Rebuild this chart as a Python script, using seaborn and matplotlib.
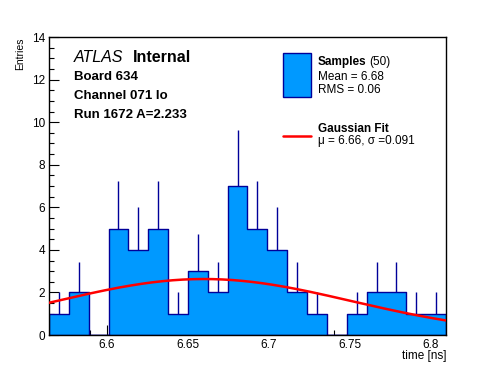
import numpy as np
import pandas as pd
import matplotlib
matplotlib.use("Agg")
import matplotlib.pyplot as plt
from matplotlib.ticker import MultipleLocator, FixedLocator
import seaborn as sns

# ---- data ----
x_min = 6.5644
x_max = 6.8094
n_bins = 20
counts = [1, 2, 0, 5, 4, 5, 1, 3, 2, 7, 5, 4, 2, 1, 0, 1, 2, 2, 1, 1]
fit_mu = 6.66
fit_sigma = 0.091
fit_amp = 2.63
x_ticks = [6.6, 6.65, 6.7, 6.75, 6.8]
x_tick_labels = ["6.6", "6.65", "6.7", "6.75", "6.8"]
y_ticks = [0, 2, 4, 6, 8, 10, 12, 14]

edges = np.linspace(x_min, x_max, n_bins + 1)
centers = 0.5 * (edges[:-1] + edges[1:])
df = pd.DataFrame({"time": centers, "n": np.array(counts, dtype=float)})

sns.set_style("white")
plt.rcParams["font.family"] = ["Liberation Sans", "DejaVu Sans"]
plt.rcParams["text.color"] = "black"
plt.rcParams["xtick.color"] = "black"
plt.rcParams["ytick.color"] = "black"
plt.rcParams["axes.labelcolor"] = "black"

fig = plt.figure(figsize=(4.96, 3.72), dpi=100)
ax = fig.add_axes([49 / 496, 1 - 335 / 372, 397 / 496, 298 / 372])

fill_col = "#0099ff"
edge_col = "#000099"

sns.histplot(data=df, x="time", weights="n", bins=n_bins, binrange=(x_min, x_max),
             element="step", fill=True, color=fill_col, alpha=1.0,
             edgecolor=edge_col, linewidth=1.0, ax=ax)

# error bars (upper half visible)
cnt = np.array(counts, dtype=float)
mask = cnt > 0
ax.vlines(centers[mask], cnt[mask], cnt[mask] + np.sqrt(cnt[mask]),
          color=edge_col, linewidth=1.0, zorder=3)

# gaussian fit
xf = np.linspace(x_min, x_max, 200)
yf = fit_amp * np.exp(-0.5 * ((xf - fit_mu) / fit_sigma) ** 2)
sns.lineplot(x=xf, y=yf, color="#ff0000", linewidth=1.8, ax=ax, zorder=4)

ax.set_xlim(x_min, x_max)
ax.set_ylim(0, 14)
ax.xaxis.set_major_locator(FixedLocator(x_ticks))
ax.set_xticklabels(x_tick_labels)
ax.xaxis.set_minor_locator(MultipleLocator(0.01))
ax.yaxis.set_major_locator(FixedLocator(y_ticks))
ax.set_yticklabels([str(v) for v in y_ticks])
ax.yaxis.set_minor_locator(MultipleLocator(0.5))
ax.tick_params(which="both", direction="in", top=False, right=False,
               bottom=True, left=True, labelsize=8.5, color="black",
               labelcolor="black", width=0.8, pad=3)
ax.tick_params(which="major", length=7)
ax.tick_params(which="minor", length=3.5)
for s in ax.spines.values():
    s.set_color("black")
    s.set_linewidth(1.0)
    s.set_visible(True)

ax.set_xlabel("")
ax.set_ylabel("")
fig.text(447 / 496, 1 - 356 / 372, "time [ns]", ha="right", va="center", fontsize=8.5)
fig.text(20 / 496, 1 - 37 / 372, "Entries", ha="center", va="top",
         rotation=90, fontsize=7.5)

# ATLAS labels
fig.text(74 / 496, 1 - 58 / 372, "ATLAS", style="italic", fontsize=11.5,
         ha="left", va="center")
fig.text(133 / 496, 1 - 58 / 372, "Internal", fontweight="bold", fontsize=11.5,
         ha="left", va="center")
fig.text(74 / 496, 1 - 77 / 372, "Board 634", fontweight="bold", fontsize=9.5,
         ha="left", va="center")
fig.text(74 / 496, 1 - 96 / 372, "Channel 071 lo", fontweight="bold", fontsize=9.5,
         ha="left", va="center")
fig.text(74 / 496, 1 - 115 / 372, "Run 1672 A=2.233", fontweight="bold", fontsize=9.5,
         ha="left", va="center")

# legend
ax.add_artist(plt.Rectangle((283 / 496, 1 - 97 / 372), 28 / 496, 44 / 372,
                            transform=fig.transFigure, facecolor=fill_col,
                            edgecolor=edge_col, linewidth=1.0, clip_on=False))
fig.text(318 / 496, 1 - 62 / 372, "Samples", fontweight="bold", fontsize=8.5,
         ha="left", va="center")
fig.text(369 / 496, 1 - 62 / 372, "(50)", fontsize=8.5, ha="left", va="center")
fig.text(318 / 496, 1 - 77 / 372, "Mean = 6.68", fontsize=8.5, ha="left", va="center")
fig.text(318 / 496, 1 - 90 / 372, "RMS = 0.06", fontsize=8.5, ha="left", va="center")
fig.lines.append(plt.Line2D([283 / 496, 311 / 496], [1 - 136 / 372, 1 - 136 / 372],
                            transform=fig.transFigure, color="#ff0000", linewidth=1.8))
fig.text(318 / 496, 1 - 129 / 372, "Gaussian Fit", fontweight="bold", fontsize=8.5,
         ha="left", va="center")
fig.text(318 / 496, 1 - 141 / 372, "\u03bc = 6.66, \u03c3 =0.091", fontsize=8.5,
         ha="left", va="center")

fig.savefig("out.png", dpi=100)
